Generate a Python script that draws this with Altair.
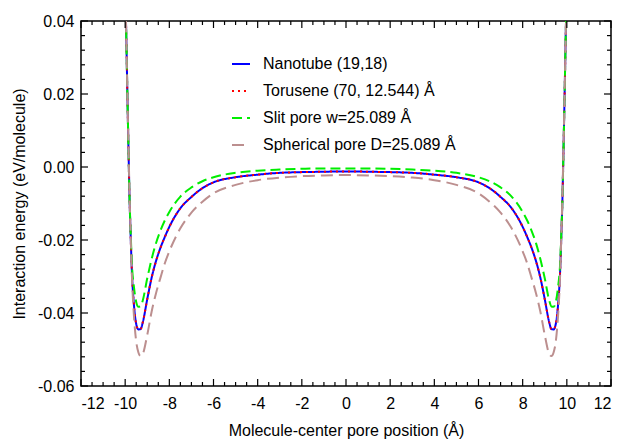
import altair as alt
import pandas as pd

# ---- data ----
x_pos = [-10.00, -9.95, -9.90, -9.85, -9.80, -9.75, -9.70, -9.60, -9.50, -9.40, -9.30, -9.20,
         -9.00, -8.80, -8.60, -8.40, -8.20, -8.00, -7.50, -7.00, -6.50, -6.00, -5.00, -4.00,
         -3.00, -2.00, -1.00, 0.00,
         1.00, 2.00, 3.00, 4.00, 5.00, 6.00, 6.50, 7.00, 7.50, 8.00, 8.20, 8.40, 8.60, 8.80,
         9.00, 9.20, 9.30, 9.40, 9.50, 9.60, 9.70, 9.75, 9.80, 9.85, 9.90, 9.95, 10.00]

nanotube = [0.050, 0.036, 0.020, 0.005, -0.009, -0.019, -0.028, -0.038, -0.0430, -0.0445, -0.0444, -0.0425,
            -0.0362, -0.0303, -0.0257, -0.0221, -0.0191, -0.0164, -0.0113, -0.0082, -0.0058, -0.0042, -0.0028, -0.0021,
            -0.0016, -0.0014, -0.0013, -0.0012,
            -0.0013, -0.0014, -0.0016, -0.0021, -0.0028, -0.0042, -0.0058, -0.0082, -0.0113, -0.0164, -0.0191, -0.0221,
            -0.0257, -0.0303, -0.0362, -0.0425, -0.0444, -0.0445, -0.0430, -0.038, -0.028, -0.019, -0.009, 0.005,
            0.020, 0.036, 0.050]

torusene = [0.050, 0.036, 0.020, 0.005, -0.009, -0.019, -0.028, -0.038, -0.0430, -0.0445, -0.0444, -0.0425,
            -0.0362, -0.0303, -0.0257, -0.0221, -0.0191, -0.0164, -0.0113, -0.0082, -0.0058, -0.0042, -0.0028, -0.0021,
            -0.0016, -0.0014, -0.0013, -0.0012,
            -0.0013, -0.0014, -0.0016, -0.0021, -0.0028, -0.0042, -0.0058, -0.0082, -0.0113, -0.0164, -0.0191, -0.0221,
            -0.0257, -0.0303, -0.0362, -0.0425, -0.0444, -0.0445, -0.0430, -0.038, -0.028, -0.019, -0.009, 0.005,
            0.020, 0.036, 0.050]

slit = [0.050, 0.036, 0.020, 0.005, -0.009, -0.018, -0.026, -0.033, -0.0370, -0.0383, -0.0382, -0.0365,
        -0.0305, -0.0252, -0.0208, -0.0174, -0.0146, -0.0123, -0.0081, -0.0056, -0.0039, -0.0028, -0.0016, -0.0010,
        -0.0007, -0.0005, -0.0004, -0.0004,
        -0.0004, -0.0005, -0.0007, -0.0010, -0.0016, -0.0028, -0.0039, -0.0056, -0.0081, -0.0123, -0.0146, -0.0174,
        -0.0208, -0.0252, -0.0305, -0.0365, -0.0382, -0.0383, -0.0370, -0.033, -0.026, -0.018, -0.009, 0.005,
        0.020, 0.036, 0.050]

spherical = [0.050, 0.036, 0.020, 0.006, -0.008, -0.019, -0.029, -0.041, -0.0478, -0.0508, -0.0518, -0.0512,
             -0.0460, -0.0396, -0.0345, -0.0303, -0.0263, -0.0231, -0.0168, -0.0125, -0.0095, -0.0072, -0.0049, -0.0036,
             -0.0029, -0.0025, -0.0023, -0.0022,
             -0.0023, -0.0025, -0.0029, -0.0036, -0.0049, -0.0072, -0.0095, -0.0125, -0.0168, -0.0231, -0.0263, -0.0303,
             -0.0345, -0.0396, -0.0460, -0.0512, -0.0518, -0.0508, -0.0478, -0.041, -0.029, -0.019, -0.008, 0.006,
             0.020, 0.036, 0.050]

series_names = ["Nanotube (19,18)", "Torusene (70, 12.544) Å",
                "Slit pore w=25.089 Å", "Spherical pore D=25.089 Å"]

x_ticks_major = [-12, -10, -8, -6, -4, -2, 0, 2, 4, 6, 8, 10, 12]
x_ticks_minor = [-11.5, -11, -10.5, -9.5, -9, -8.5, -7.5, -7, -6.5, -5.5, -5, -4.5,
                 -3.5, -3, -2.5, -1.5, -1, -0.5, 0.5, 1, 1.5, 2.5, 3, 3.5,
                 4.5, 5, 5.5, 6.5, 7, 7.5, 8.5, 9, 9.5, 10.5, 11, 11.5]
y_ticks_major = [-0.06, -0.04, -0.02, 0.0, 0.02, 0.04]
y_ticks_minor = [-0.056, -0.052, -0.048, -0.044, -0.036, -0.032, -0.028, -0.024,
                 -0.016, -0.012, -0.008, -0.004, 0.004, 0.008, 0.012, 0.016,
                 0.024, 0.028, 0.032, 0.036]

# ---- styles ----
colors = ["#0000ff", "#ff0000", "#00ee00", "#bc8f8f"]
dashes = [[1, 0], [2, 4], [10, 5], [12, 6]]
FONT = "Liberation Sans"
W, H = 530, 365
MAJ, MIN = 7, 4

rows = []
for name, vals in zip(series_names, [nanotube, torusene, slit, spherical]):
    for xv, ev in zip(x_pos, vals):
        rows.append({"series": name, "x": xv, "e": ev})
df = pd.DataFrame(rows)

xscale = alt.Scale(domain=[-12, 12], nice=False, zero=False)
yscale = alt.Scale(domain=[-0.06, 0.04], nice=False, zero=False)

x_axis = alt.Axis(values=x_ticks_major, title="Molecule-center pore position (Å)",
                  labelPadding=9, titlePadding=11,
                  labelExpr="(datum.value < 0 ? '-' : '') + format(abs(datum.value), 'd')")
y_axis = alt.Axis(values=y_ticks_major, title="Interaction energy (eV/molecule)",
                  labelPadding=7, titlePadding=10,
                  labelExpr="(datum.value < 0 ? '-' : '') + format(abs(datum.value), '.2f')")

legend = alt.Legend(orient="none", legendX=150, legendY=33, symbolType="stroke",
                    symbolSize=324, symbolStrokeWidth=2, labelFontSize=16, labelFont=FONT,
                    labelColor="black", labelOffset=12, rowPadding=9, padding=0, labelLimit=400)

lines = alt.Chart(df).mark_line(clip=True, strokeWidth=2, interpolate="monotone").encode(
    x=alt.X("x:Q", scale=xscale, axis=x_axis, title="Molecule-center pore position (Å)"),
    y=alt.Y("e:Q", scale=yscale, axis=y_axis, title="Interaction energy (eV/molecule)"),
    color=alt.Color("series:N", scale=alt.Scale(domain=series_names, range=colors),
                    legend=legend, title=None),
    strokeDash=alt.StrokeDash("series:N", scale=alt.Scale(domain=series_names, range=dashes),
                              legend=legend, title=None),
)


def xticks(vals, length, top):
    return alt.Chart(pd.DataFrame({"t": vals})).mark_rule(color="black", strokeWidth=1.2).encode(
        x=alt.X("t:Q", scale=xscale, axis=x_axis, title="Molecule-center pore position (Å)"),
        y=alt.value(0 if top else H),
        y2=alt.value(length if top else H - length),
    )


def yticks(vals, length, right):
    return alt.Chart(pd.DataFrame({"t": vals})).mark_rule(color="black", strokeWidth=1.2).encode(
        y=alt.Y("t:Q", scale=yscale, axis=y_axis, title="Interaction energy (eV/molecule)"),
        x=alt.value(W if right else 0),
        x2=alt.value(W - length if right else length),
    )


ticks = [xticks(x_ticks_major, MAJ, False), xticks(x_ticks_minor, MIN, False),
         xticks(x_ticks_major, MAJ, True), xticks(x_ticks_minor, MIN, True),
         yticks(y_ticks_major, MAJ, False), yticks(y_ticks_minor, MIN, False),
         yticks(y_ticks_major, MAJ, True), yticks(y_ticks_minor, MIN, True)]

chart = alt.layer(lines, *ticks).properties(
    width=W, height=H,
    padding={"left": 73, "top": 13, "right": 2, "bottom": 55},
    autosize=alt.AutoSizeParams(type="none"),
).configure_view(
    stroke="black", strokeWidth=1.5
).configure_axis(
    labelFont=FONT, labelFontSize=16, labelColor="black",
    titleFont=FONT, titleFontSize=16, titleFontWeight="normal", titleColor="black",
    ticks=False, tickSize=0, domain=False, grid=False,
)

chart.save("out.html", embed_options={"renderer": "svg", "actions": False})
